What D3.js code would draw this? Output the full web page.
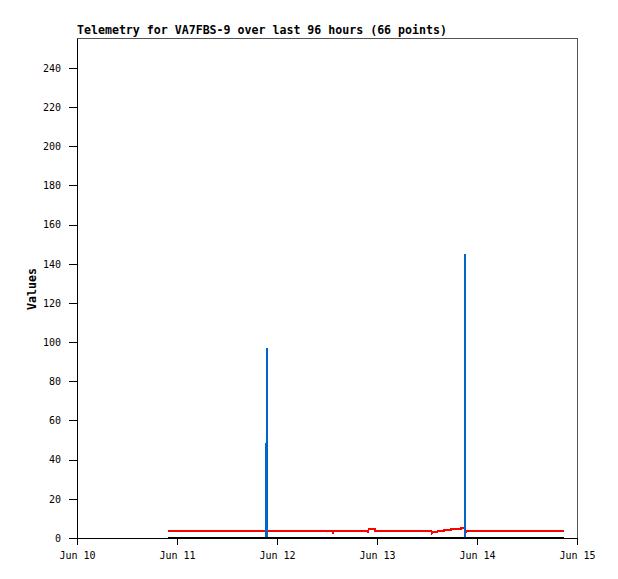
<!DOCTYPE html>
<html>
<head>
<meta charset="utf-8">
<script src="https://cdn.jsdelivr.net/npm/d3@7/dist/d3.min.js"></script>
<style>
  html, body { margin: 0; padding: 0; background: #fff; }
  svg { display: block; }
  text { font-family: "DejaVu Sans Mono", "Liberation Mono", monospace; }
</style>
</head>
<body>
<svg id="chart" width="618" height="579"></svg>
<script>
// ---- data ----
const titleText = "Telemetry for VA7FBS-9 over last 96 hours (66 points)";
const yAxisLabel = "Values";
const xDomain = ["2024-06-10T00:00", "2024-06-15T00:00"];
const yDomain = [0, 255.3];
const yTickValues = [0, 20, 40, 60, 80, 100, 120, 140, 160, 180, 200, 220, 240];
const xTickLabels = ["Jun 10", "Jun 11", "Jun 12", "Jun 13", "Jun 14", "Jun 15"];

// red series
const redTimes = ["2024-06-10T21:48", "2024-06-12T13:24", "2024-06-12T13:30", "2024-06-12T13:36",
  "2024-06-12T21:42", "2024-06-12T21:48", "2024-06-12T22:00", "2024-06-12T22:24", "2024-06-12T23:30",
  "2024-06-12T23:36", "2024-06-13T13:00", "2024-06-13T13:12", "2024-06-13T13:24", "2024-06-13T14:24",
  "2024-06-13T14:30", "2024-06-13T16:00", "2024-06-13T16:06", "2024-06-13T17:42", "2024-06-13T17:48",
  "2024-06-13T20:06", "2024-06-13T20:12", "2024-06-13T21:00", "2024-06-13T21:12", "2024-06-13T21:18",
  "2024-06-13T21:24", "2024-06-14T20:54"];
const redValues = [3.7, 3.7, 2.3, 3.7,
  3.7, 2.4, 4.4, 4.8, 4.8,
  3.7, 3.7, 2.5, 2.9, 2.9,
  3.4, 3.4, 4.1, 4.1, 4.6,
  4.6, 5.0, 5.0, 3.7, 2.9,
  3.7, 3.7];

// blue series
const blueTimes = ["2024-06-10T21:48", "2024-06-11T21:28", "2024-06-11T21:28:30", "2024-06-11T21:42",
  "2024-06-11T21:42:30", "2024-06-11T21:43", "2024-06-13T21:01", "2024-06-13T21:03", "2024-06-13T21:05",
  "2024-06-14T20:54"];
const blueValues = [0, 0, 48, 48, 97, 0, 0, 145, 0, 0];

// black series
const blackTimes = ["2024-06-10T21:48", "2024-06-11T21:28", "2024-06-12T21:48", "2024-06-13T21:03", "2024-06-14T20:54"];
const blackValues = [0, 0, 0, 0, 0];

// ---- layout ----
const mLeft = 77, mRight = 577, mTop = 38, mBottom = 538;
const parse = d3.timeParse("%Y-%m-%dT%H:%M");
const parseS = d3.timeParse("%Y-%m-%dT%H:%M:%S");
const P = s => parse(s) || parseS(s);

const x = d3.scaleTime().domain(xDomain.map(P)).range([mLeft, mRight]);
const y = d3.scaleLinear().domain(yDomain).range([mBottom, mTop]);

const svg = d3.select("#chart");

// frame (top/right)
svg.append("rect")
  .attr("x", mLeft).attr("y", mTop)
  .attr("width", mRight - mLeft).attr("height", mBottom - mTop)
  .attr("fill", "none").attr("stroke", "#555").attr("stroke-width", 1)
  .attr("shape-rendering", "crispEdges");

// axes
const xTicks = xTickLabels.map((d, i) => d3.timeDay.offset(P(xDomain[0]), i));
const xAxis = d3.axisBottom(x).tickValues(xTicks)
  .tickFormat((d, i) => xTickLabels[i]).tickSize(7).tickSizeOuter(0).tickPadding(7);
const yAxis = d3.axisLeft(y).tickValues(yTickValues)
  .tickSize(8).tickSizeOuter(0).tickPadding(8);

const gx = svg.append("g").attr("transform", `translate(0,${mBottom})`).call(xAxis);
const gy = svg.append("g").attr("transform", `translate(${mLeft},0)`).call(yAxis);
[gx, gy].forEach(g => {
  g.attr("shape-rendering", "crispEdges");
  g.selectAll("path,line").attr("stroke", "#000");
  g.selectAll("text").attr("font-size", "10px").attr("fill", "#000")
    .attr("font-family", "DejaVu Sans Mono, monospace");
});

// series
const line = d3.line().x(d => x(d[0])).y(d => y(d[1]));
function series(times, values, color) {
  const pts = times.map((t, i) => [P(t), values[i]]);
  svg.append("path").datum(pts)
    .attr("d", line)
    .attr("fill", "none")
    .attr("stroke", color)
    .attr("stroke-width", 2)
    .attr("shape-rendering", "crispEdges");
}
series(redTimes, redValues, "#ff0000");
series(blueTimes, blueValues, "#0066cc");
series(blackTimes, blackValues, "#000000");

// title
svg.append("text")
  .attr("x", mLeft).attr("y", 34)
  .attr("font-size", "11.6px").attr("font-weight", "bold")
  .attr("fill", "#000")
  .text(titleText);

// y label
svg.append("text")
  .attr("transform", "translate(36,289) rotate(-90)")
  .attr("text-anchor", "middle")
  .attr("font-size", "11.6px").attr("font-weight", "bold")
  .attr("fill", "#000")
  .text(yAxisLabel);
</script>
</body>
</html>
